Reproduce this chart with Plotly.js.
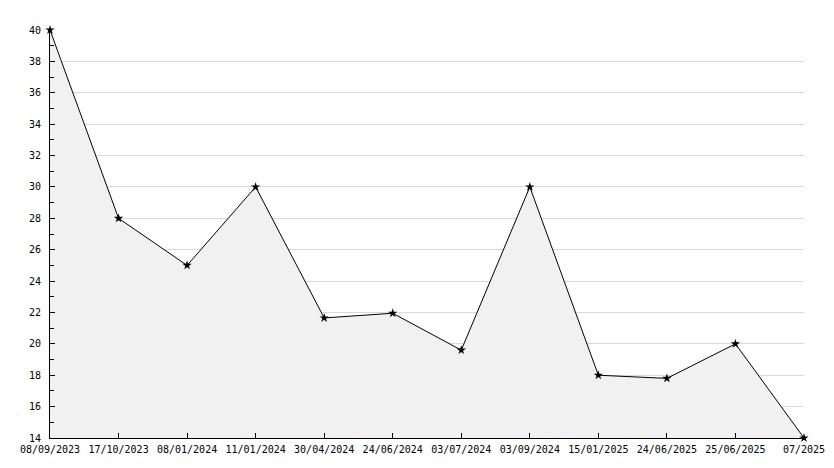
<!DOCTYPE html>
<html>
<head>
<meta charset="utf-8">
<script src="https://cdn.plot.ly/plotly-3.0.1.min.js"></script>
<style>html,body{margin:0;padding:0;background:#fff;}#chart{width:834px;height:468px;}</style>
</head>
<body>
<div id="chart"></div>
<script>
const dates = ["08/09/2023","17/10/2023","08/01/2024","11/01/2024","30/04/2024","24/06/2024","03/07/2024","03/09/2024","15/01/2025","24/06/2025","25/06/2025","07/2025"];
const values = [40, 28, 25, 30, 21.65, 21.95, 19.6, 30, 18.0, 17.8, 20, 14];
const yTickVals = [14,16,18,20,22,24,26,28,30,32,34,36,38,40];

const trace = {
  x: dates,
  y: values,
  type: 'scatter',
  mode: 'lines+markers',
  fill: 'tozeroy',
  fillcolor: '#f1f1f1',
  line: {color: '#000000', width: 1},
  marker: {symbol: 'star', size: 7, color: '#000000'},
  cliponaxis: false,
  hoverinfo: 'x+y'
};

const layout = {
  width: 834, height: 468,
  margin: {l: 50, r: 30, t: 30, b: 30, pad: 0},
  paper_bgcolor: '#ffffff',
  plot_bgcolor: '#ffffff',
  showlegend: false,
  font: {family: 'DejaVu Sans Mono, monospace', size: 10, color: '#000000'},
  xaxis: {
    type: 'category',
    range: [0, dates.length - 1],
    showgrid: false,
    zeroline: false,
    showline: true, linecolor: '#000000', linewidth: 1,
    ticks: 'inside', ticklen: 5, tickcolor: '#000000',
    tickangle: 0,
    ticklabelstandoff: 2,
    tickfont: {family: 'DejaVu Sans Mono, monospace', size: 10, color: '#000000'},
    fixedrange: true
  },
  yaxis: {
    range: [14, 40],
    tickvals: yTickVals,
    ticktext: yTickVals.map(String),
    showgrid: true, gridcolor: '#d9d9d9', gridwidth: 1,
    zeroline: false,
    showline: true, linecolor: '#000000', linewidth: 1,
    ticks: 'inside', ticklen: 5, tickcolor: '#000000',
    ticklabelstandoff: 6,
    minor: {dtick: 1, tick0: 0, ticks: 'inside', ticklen: 4, tickcolor: '#000000', showgrid: false},
    tickfont: {family: 'DejaVu Sans Mono, monospace', size: 10, color: '#000000'},
    fixedrange: true
  }
};

Plotly.newPlot('chart', [trace], layout, {displayModeBar: false, staticPlot: true});
</script>
</body>
</html>
